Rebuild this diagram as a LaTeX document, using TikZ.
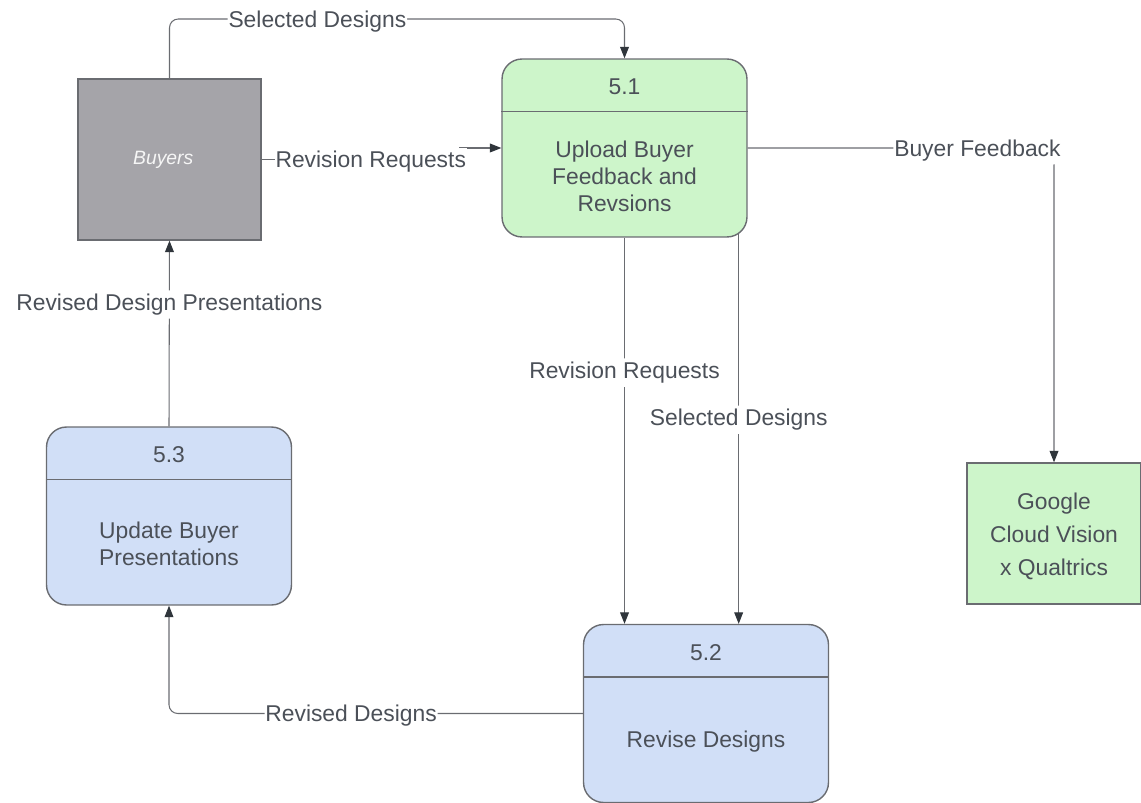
\documentclass[tikz,border=0pt]{standalone}
\usepackage{fontspec}
\setmainfont{Liberation Sans}
\usetikzlibrary{arrows.meta,positioning}

\definecolor{procgreen}{HTML}{CDF5CA}
\definecolor{procblue}{HTML}{D1DFF7}
\definecolor{entgray}{HTML}{A5A4A9}
\definecolor{edgegray}{HTML}{6A6C71}
\definecolor{txtgray}{HTML}{4B5058}
\definecolor{tipdark}{HTML}{2F353B}

\tikzset{
  process/.style={draw=edgegray, line width=0.8pt, rounded corners=0.4cm,
    minimum width=4.9cm, minimum height=3.56cm},
  entity/.style={draw=edgegray, line width=0.8pt, fill=entgray,
    text=white!90!entgray, font=\fontsize{11}{13}\selectfont\itshape},
  store/.style={draw=edgegray, line width=0.8pt, fill=procgreen, text=txtgray,
    align=center, font=\fontsize{13}{18.8}\selectfont},
  divider/.style={draw=edgegray, line width=0.8pt},
  ptext/.style={text=txtgray, align=center, font=\fontsize{13}{15.5}\selectfont},
  flow/.style={draw=edgegray, line width=0.6pt, rounded corners=5pt,
    -{Triangle[length=6.5pt,width=5pt,color=tipdark]}},
  lbl/.style={fill=white, text=txtgray, inner xsep=0.5pt, inner ysep=2pt,
    yshift=-0.05cm, font=\fontsize{13}{15}\selectfont}
}

\begin{document}
\begin{tikzpicture}[x=0.02cm, y=-0.02cm]
\useasboundingbox (0,0) rectangle (1141,803);

    % Draw the external entities
    \node[entity, minimum width=3.66cm, minimum height=3.22cm] (buyers) at (169.5,159.5) {\hspace{-0.25cm}Buyers};
    \node[store, minimum width=3.48cm, minimum height=2.82cm] (google) at (1054,533.5) {};
    \node[store, draw=none, fill=none] (googletext) at ([yshift=-0.05cm]google.center) {Google\\Cloud Vision\\x Qualtrics};

    % Draw the processes
    \node[process, fill=procgreen] (p51) at (624.5,148) {};
    \draw[divider] ([yshift=-1.06cm]p51.north west) -- ([yshift=-1.06cm]p51.north east);
    \node[ptext] (p51num) at ([yshift=-0.57cm]p51.north) {5.1};
    \node[ptext] (p51name) at ([yshift=1.23cm]p51.south) {Upload Buyer\\Feedback and\\Revsions};

    \node[process, fill=procblue] (p52) at (706,713.5) {};
    \draw[divider] ([yshift=-1.06cm]p52.north west) -- ([yshift=-1.06cm]p52.north east);
    \node[ptext] (p52num) at ([yshift=-0.57cm]p52.north) {5.2};
    \node[ptext] (p52name) at ([yshift=1.23cm]p52.south) {Revise Designs};

    \node[process, fill=procblue] (p53) at (169,516) {};
    \draw[divider] ([yshift=-1.06cm]p53.north west) -- ([yshift=-1.06cm]p53.north east);
    \node[ptext] (p53num) at ([yshift=-0.57cm]p53.north) {5.3};
    \node[ptext] (p53name) at ([yshift=1.23cm]p53.south) {Update Buyer\\Presentations};

    % Draw the data flows
    \coordinate (topline) at (0,19);
    \coordinate (rrjog) at (460,0);
    \draw[flow] (buyers.north) -- (buyers.north |- topline)
      -- node[lbl, pos=0.325] {Selected Designs} (p51.north |- topline) -- (p51.north);
    \draw[flow, rounded corners=0pt] (buyers.east)
      -- node[lbl, pos=0.55] {Revision Requests} (buyers.east -| rrjog) |- (p51.west);
    \draw[flow] (p51.east) -| node[lbl, pos=0.375] {Buyer Feedback} (google.north);
    \draw[flow] (p51.south) -- node[lbl, pos=0.343] {Revision Requests} (p51.south |- p52.north);
    \draw[flow] ([xshift=-0.18cm,yshift=0.07cm]p51.south east)
      -- node[lbl, pos=0.47] {Selected Designs} ([xshift=-0.18cm]p51.south east |- p52.north);
    \draw[flow] (p52.west) -| node[lbl, pos=0.28] {Revised Designs} (p53.south);
    \draw[flow] (p53.north) -- node[lbl, pos=0.67] {Revised Design Presentations} (buyers.south);

\end{tikzpicture}
\end{document}
